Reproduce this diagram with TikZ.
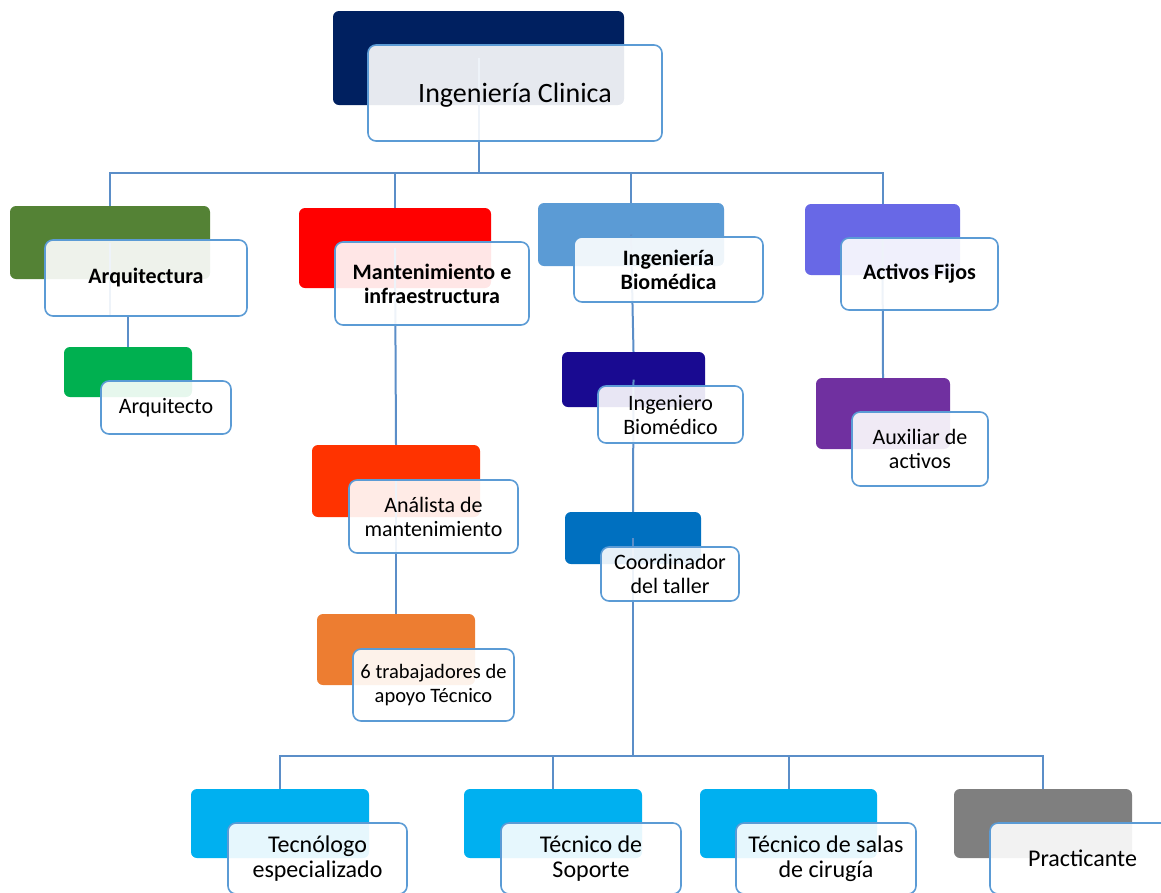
\documentclass[tikz,border=0pt]{standalone}
\usepackage{fontspec}
\setmainfont{Carlito}
\usetikzlibrary{fit}

\definecolor{linec}{HTML}{5B8EC8}
\definecolor{edgec}{HTML}{5B9BD5}
\definecolor{cRoot}{HTML}{002060}
\definecolor{cArq}{HTML}{548235}
\definecolor{cMan}{HTML}{FF0000}
\definecolor{cBio}{HTML}{5B9BD5}
\definecolor{cAct}{HTML}{6868E6}
\definecolor{cArqto}{HTML}{00B050}
\definecolor{cIngB}{HTML}{190A91}
\definecolor{cAux}{HTML}{7030A0}
\definecolor{cAna}{HTML}{FF3300}
\definecolor{cCoord}{HTML}{0070C0}
\definecolor{cTrab}{HTML}{ED7D31}
\definecolor{cTec}{HTML}{00B0F0}
\definecolor{cPra}{HTML}{7F7F7F}

\tikzset{
  backbox/.style={rounded corners=6pt, inner sep=0pt, draw=none},
  frontbox/.style={rounded corners=8pt, inner sep=0pt, draw=edgec, line width=1.6pt,
    fill=white, fill opacity=0.9, text opacity=1, align=center,
    font=\fontsize{22}{24}\selectfont},
  card/.style n args={2}{frontbox, minimum width=#1, minimum height=#2},
  headtxt/.style={font=\fontsize{22}{24}\selectfont\bfseries},
  smalltxt/.style={font=\fontsize{20.5}{24}\selectfont},
  bottxt/.style={font=\fontsize{24}{25}\selectfont},
  conn/.style={draw=linec, line width=2pt},
}

\begin{document}
\begin{tikzpicture}[x=1pt,y=-1pt]
\useasboundingbox (0,0) rectangle (1161,892);
\clip (0,0) rectangle (1161,892);

% coloured back plates
\node[backbox, fill=cRoot,  fit={(333,11)(624,105)}]  (root-b)  {};
\node[backbox, fill=cArq,   fit={(10,206)(210,279)}]  (arq-b)   {};
\node[backbox, fill=cMan,   fit={(299,208)(491,288)}] (man-b)   {};
\node[backbox, fill=cBio,   fit={(538,203)(724,266)}] (bio-b)   {};
\node[backbox, fill=cAct,   fit={(805,204)(960,275)}] (act-b)   {};
\node[backbox, fill=cArqto, fit={(64,347)(192,397)}]  (arqto-b) {};
\node[backbox, fill=cIngB,  fit={(562,352)(705,407)}] (ingb-b)  {};
\node[backbox, fill=cAux,   fit={(816,378)(950,449)}] (aux-b)   {};
\node[backbox, fill=cAna,   fit={(312,445)(480,517)}] (ana-b)   {};
\node[backbox, fill=cCoord, fit={(565,512)(701,564)}] (coord-b) {};
\node[backbox, fill=cTrab,  fit={(317,614)(475,685)}] (trab-b)  {};
\node[backbox, fill=cTec,   fit={(191,789)(369,858)}] (tec-b)   {};
\node[backbox, fill=cTec,   fit={(464,789)(642,858)}] (sop-b)   {};
\node[backbox, fill=cTec,   fit={(700,789)(877,858)}] (sal-b)   {};
\node[backbox, fill=cPra,   fit={(954,789)(1132,858)}] (pra-b)  {};

% bus levels
\coordinate (bus1) at (0,173);
\coordinate (bus3) at (0,756);
\coordinate (jog) at (0,316);

% connectors
\draw[conn] (root-b.center) -- (root-b.center |- bus1) -| (arq-b.north);
\draw[conn] (root-b.center |- bus1) -| (man-b.north);
\draw[conn] (root-b.center |- bus1) -| (bio-b.north);
\draw[conn] (root-b.center |- bus1) -| (act-b.north);

\draw[conn] (arq-b.center) |- (arqto-b.north |- jog) -- (arqto-b.north);
\draw[conn] (man-b.center) -- (ana-b.north);
\draw[conn] (ana-b.center) -- (trab-b.north);
\draw[conn] (bio-b.center) -- (ingb-b.north);
\draw[conn] (ingb-b.center) -- (coord-b.north);
\draw[conn] (act-b.center) -- (aux-b.north);

\draw[conn] (coord-b.center) -- (coord-b.center |- bus3) -| (tec-b.north);
\draw[conn] (coord-b.center |- bus3) -| (sop-b.north);
\draw[conn] (coord-b.center |- bus3) -| (sal-b.north);
\draw[conn] (coord-b.center |- bus3) -| (pra-b.north);

% white label cards
\node[card={294}{96}, font=\fontsize{28}{30}\selectfont, text depth=0pt] (root) at (515,93) {Ingeniería Clinica};
\node[card={202}{76}, headtxt] (arq) at (146,278) {Arquitectura};
\node[card={194}{83}, headtxt] (man) at (432,283.5) {Mantenimiento e\\infraestructura};
\node[card={189}{65}, headtxt] (bio) at (668.5,269.5) {Ingeniería\\Biomédica};
\node[card={157}{72}, headtxt] (act) at (919.5,274) {Activos Fijos};
\node[card={130}{53}] (arqto) at (166,407.5) {Arquitecto};
\node[card={145}{57}] (ingb) at (670.5,414.5) {Ingeniero\\Biomédico};
\node[card={136}{74}] (aux) at (920,449) {Auxiliar de\\activos};
\node[card={169}{73}] (ana) at (433.5,516.5) {Análista de\\mantenimiento};
\node[card={138}{54}] (coord) at (670,574) {Coordinador\\del taller};
\node[card={161}{72}, smalltxt] (trab) at (433.5,685) {6 trabajadores de\\apoyo Técnico};
\node[card={179}{71}, bottxt] (tec) at (317.5,858.5) {Tecnólogo\\especializado};
\node[card={180}{71}, bottxt] (sop) at (591,858.5) {Técnico de\\Soporte};
\node[card={180}{71}, bottxt] (sal) at (826,858.5) {Técnico de salas\\de cirugía};
\node[card={185}{71}, bottxt] (pra) at (1082.5,858.5) {Practicante};
\end{tikzpicture}
\end{document}
